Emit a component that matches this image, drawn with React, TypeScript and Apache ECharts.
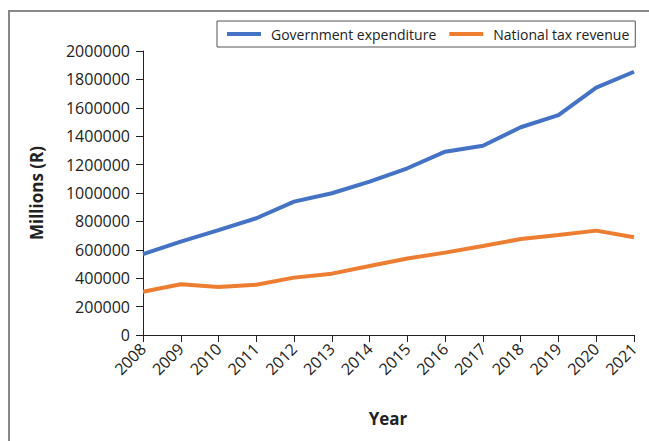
import React, { useEffect, useRef } from "react";
import * as echarts from "echarts";

const years = ["2008","2009","2010","2011","2012","2013","2014","2015","2016","2017","2018","2019","2020","2021"];
const govExpenditure = [570000, 657000, 739000, 822000, 939000, 998000, 1080000, 1174000, 1291000, 1333000, 1463000, 1549000, 1742000, 1854000];
const taxRevenue = [305000, 357000, 338000, 354000, 404000, 432000, 486000, 539000, 580000, 627000, 676000, 704000, 735000, 688000];
const seriesNames = ["Government expenditure", "National tax revenue"];
const yAxisTitle = "Millions (R)";
const xAxisTitle = "Year";

const FONT = "'Open Sans', sans-serif";

export default function App() {
  const ref = useRef<HTMLDivElement>(null);
  useEffect(() => {
    if (!ref.current) return;
    const chart = echarts.init(ref.current, null, { renderer: "svg" });
    chart.setOption({
      animation: false,
      backgroundColor: "#fff",
      textStyle: { fontFamily: FONT },
      legend: {
        data: seriesNames,
        left: 217,
        top: 21,
        icon: "rect",
        itemWidth: 34,
        itemHeight: 4,
        itemGap: 13,
        borderColor: "#555",
        borderWidth: 1,
        padding: [6, 6, 6, 10],
        textStyle: { fontSize: 14, color: "#222", fontFamily: FONT, padding: [0, 0, 0, 5] },
      },
      grid: { left: 143, right: 15, top: 51, bottom: 106, containLabel: false },
      xAxis: {
        type: "category",
        data: years,
        boundaryGap: false,
        axisLine: { lineStyle: { color: "#222", width: 1 } },
        axisTick: { show: true, length: 7, inside: false, alignWithLabel: true, lineStyle: { color: "#222" } },
        axisLabel: { interval: 0, rotate: 45, fontSize: 16, color: "#222", margin: 11, fontFamily: FONT },
        splitLine: { show: false },
      },
      yAxis: {
        type: "value",
        min: 0,
        max: 2000000,
        interval: 200000,
        axisLine: { show: true, lineStyle: { color: "#222", width: 1 } },
        axisTick: { show: true, length: 7, lineStyle: { color: "#222" } },
        axisLabel: { fontSize: 16, color: "#222", margin: 13, fontFamily: FONT, formatter: (v: number) => String(v) },
        splitLine: { show: false },
      },
      series: [
        {
          name: seriesNames[0],
          type: "line",
          data: govExpenditure,
          symbol: "none",
          lineStyle: { width: 4, color: "#4472C4" },
          itemStyle: { color: "#4472C4" },
        },
        {
          name: seriesNames[1],
          type: "line",
          data: taxRevenue,
          symbol: "none",
          lineStyle: { width: 4, color: "#ED7D31" },
          itemStyle: { color: "#ED7D31" },
        },
      ],
      graphic: [
        {
          type: "rect",
          shape: { x: 9, y: 11, width: 660, height: 460 },
          style: { fill: "none", stroke: "#888", lineWidth: 2 },
          silent: true,
        },
        {
          type: "text",
          x: 36,
          y: 193,
          rotation: Math.PI / 2,
          style: {
            text: yAxisTitle,
            fontSize: 17,
            fontWeight: "bold",
            fill: "#222",
            fontFamily: FONT,
            align: "center",
            verticalAlign: "middle",
          },
        },
        {
          type: "text",
          x: 388,
          y: 418,
          style: {
            text: xAxisTitle,
            fontSize: 17,
            fontWeight: "bold",
            fill: "#222",
            fontFamily: FONT,
            align: "center",
            verticalAlign: "middle",
          },
        },
      ],
    });
    return () => chart.dispose();
  }, []);
  return <div ref={ref} style={{ width: 649, height: 441, position: "absolute", left: 0, top: 0 }} />;
}
